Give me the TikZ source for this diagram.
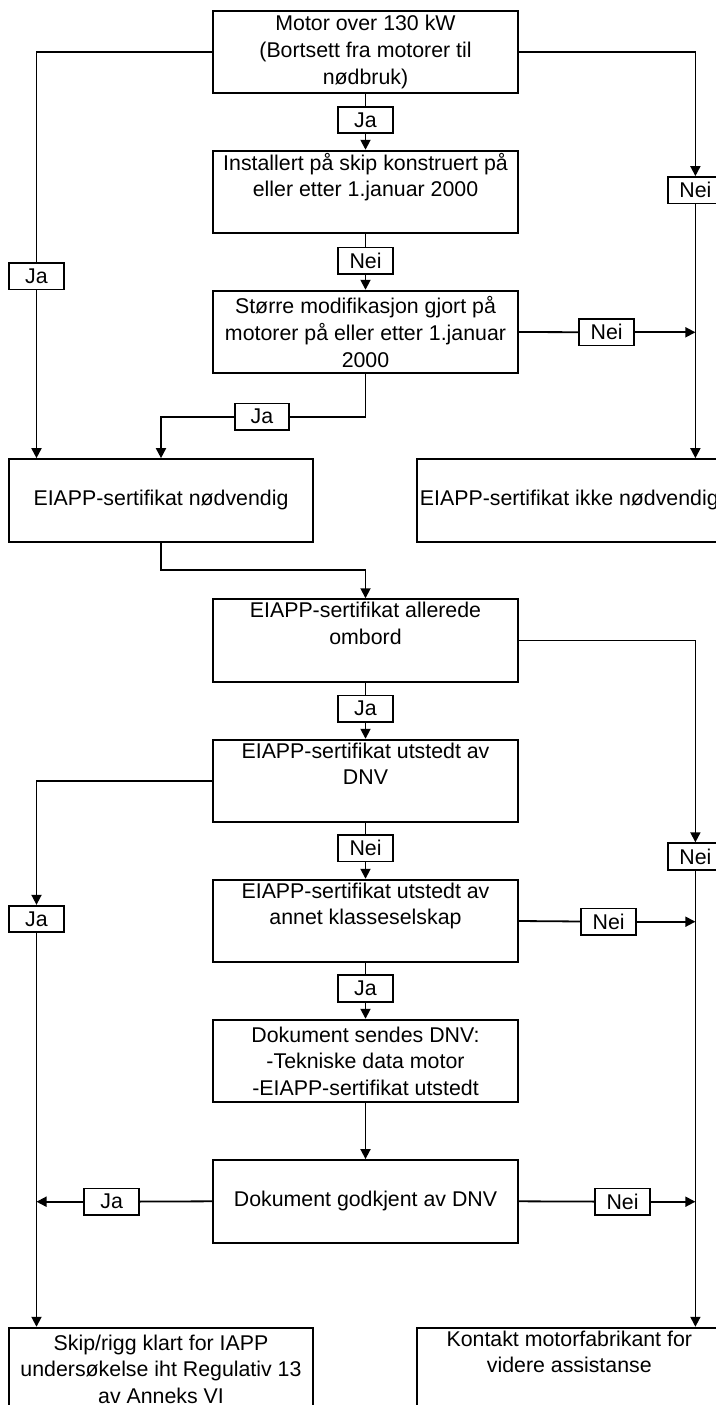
\documentclass[tikz,border=0pt]{standalone}
\usepackage{fontspec}
\setmainfont{Liberation Sans}
\usepackage{tikz}
\usetikzlibrary{arrows.meta}

\begin{document}
\begin{tikzpicture}[x=0.75pt,y=0.75pt,yscale=-1,xscale=1,
  line width=1.35pt,
  box/.style={draw, minimum width=228.5pt, minimum height=62pt, inner sep=0pt, align=center, font=\fontsize{16}{19.9}\selectfont},
  lbl/.style={draw, minimum width=41pt, minimum height=19.9pt, inner sep=0pt, font=\fontsize{16}{19.9}\selectfont},
  arr/.style={-{Triangle[length=7.5pt,width=7.5pt]}}]
%set diagram area to the reference size
\useasboundingbox (0,0) rectangle (715,1405);

% Text Node
\node [box] (b1) at (365.5,52) {Motor over 130 kW\\(Bortsett fra motorer til\\nødbruk)};
% Text Node
\node [box] (b2) at (365.5,192) {Installert på skip konstruert på\\eller etter 1.januar 2000\\ \strut};
% Text Node
\node [box] (b3) at (365.5,332) {Større modifikasjon gjort på\\motorer på eller etter 1.januar\\2000};
% Text Node
\node [box] (bnod) at (161,500.4) {EIAPP-sertifikat nødvendig};
% Text Node
\node [box] (bikke) at (569.3,500.4) {EIAPP-sertifikat ikke nødvendig};
% Text Node
\node [box] (bomb) at (365.5,640.5) {EIAPP-sertifikat allerede\\ombord\\ \strut};
% Text Node
\node [box] (bdnv) at (365.5,781) {EIAPP-sertifikat utstedt av\\DNV\\ \strut};
% Text Node
\node [box] (bann) at (365.5,921) {EIAPP-sertifikat utstedt av\\annet klasseselskap\\ \strut};
% Text Node
\node [box] (bdok) at (365.5,1061) {Dokument sendes DNV:\\-Tekniske data motor\\-EIAPP-sertifikat utstedt};
% Text Node
\node [box] (bgod) at (365.5,1201.3) {Dokument godkjent av DNV};
% Text Node
\node [box] (bskip) at (161,1369) {Skip/rigg klart for IAPP\\undersøkelse iht Regulativ 13\\av Anneks VI};
% Text Node
\node [box] (bkon) at (569.3,1369) {Kontakt motorfabrikant for\\videre assistanse\\ \strut};

% Text Node
\node [lbl] (ja1) at (365.5,120) {Ja};
% Text Node
\node [lbl] (nei1) at (365.5,260.7) {Nei};
% Text Node
\node [lbl] (neiR1) at (695.4,190.3) {Nei};
% Text Node
\node [lbl] (jaL1) at (36.5,276.3) {Ja};
% Text Node
\node [lbl] (nei2) at (606.6,332.3) {Nei};
% Text Node
\node [lbl] (ja2) at (262,416.7) {Ja};
% Text Node
\node [lbl] (ja3) at (365.5,708.7) {Ja};
% Text Node
\node [lbl] (nei3) at (365.5,848.2) {Nei};
% Text Node
\node [lbl] (neiR2) at (695.4,856.5) {Nei};
% Text Node
\node [lbl] (jaL2) at (36.5,919) {Ja};
% Text Node
\node [lbl] (nei4) at (608.7,921.7) {Nei};
% Text Node
\node [lbl] (ja4) at (365.5,988.5) {Ja};
% Text Node
\node [lbl] (ja5) at (111.7,1201.7) {Ja};
% Text Node
\node [lbl] (nei5) at (622.5,1201.7) {Nei};

% Connection
\draw (b1.west) -| (jaL1);
% Connection
\draw [arr] (jaL1) -- (jaL1 |- bnod.north);
% Connection
\draw [arr] (b1.east) -| (neiR1);
% Connection
\draw [arr] (neiR1) -- (neiR1 |- bikke.north);
% Connection
\draw (b1) -- (ja1);
% Connection
\draw [arr] (ja1) -- (b2);
% Connection
\draw (b2) -- (nei1);
% Connection
\draw [arr] (nei1) -- (b3);
% Connection
\draw (b3.east) -- (nei2);
% Connection
\draw [arr] (nei2) -- (nei2 -| neiR1);
% Connection
\draw (b3) |- (ja2);
% Connection
\draw [arr] (ja2) -| (bnod.north);
% Connection
\draw [arr] (bnod.south) -- ++(0,27.6) -| (bomb.north);
% Connection
\draw [arr] (bomb.east) -| (neiR2);
% Connection
\draw [arr] (neiR2) -- (neiR2 |- bkon.north);
% Connection
\draw (bomb) -- (ja3);
% Connection
\draw [arr] (ja3) -- (bdnv);
% Connection
\draw [arr] (bdnv.west) -| (jaL2);
% Connection
\draw [arr] (jaL2) -- (jaL2 |- bskip.north);
% Connection
\draw (bdnv) -- (nei3);
% Connection
\draw [arr] (nei3) -- (bann);
% Connection
\draw (bann.east) -- (nei4);
% Connection
\draw [arr] (nei4) -- (nei4 -| neiR2);
% Connection
\draw (bann) -- (ja4);
% Connection
\draw [arr] (ja4) -- (bdok);
% Connection
\draw [arr] (bdok) -- (bgod);
% Connection
\draw (bgod.west) -- (ja5);
% Connection
\draw [arr] (ja5) -- (ja5 -| jaL2);
% Connection
\draw (bgod.east) -- (nei5);
% Connection
\draw [arr] (nei5) -- (nei5 -| neiR2);

\end{tikzpicture}
\end{document}
